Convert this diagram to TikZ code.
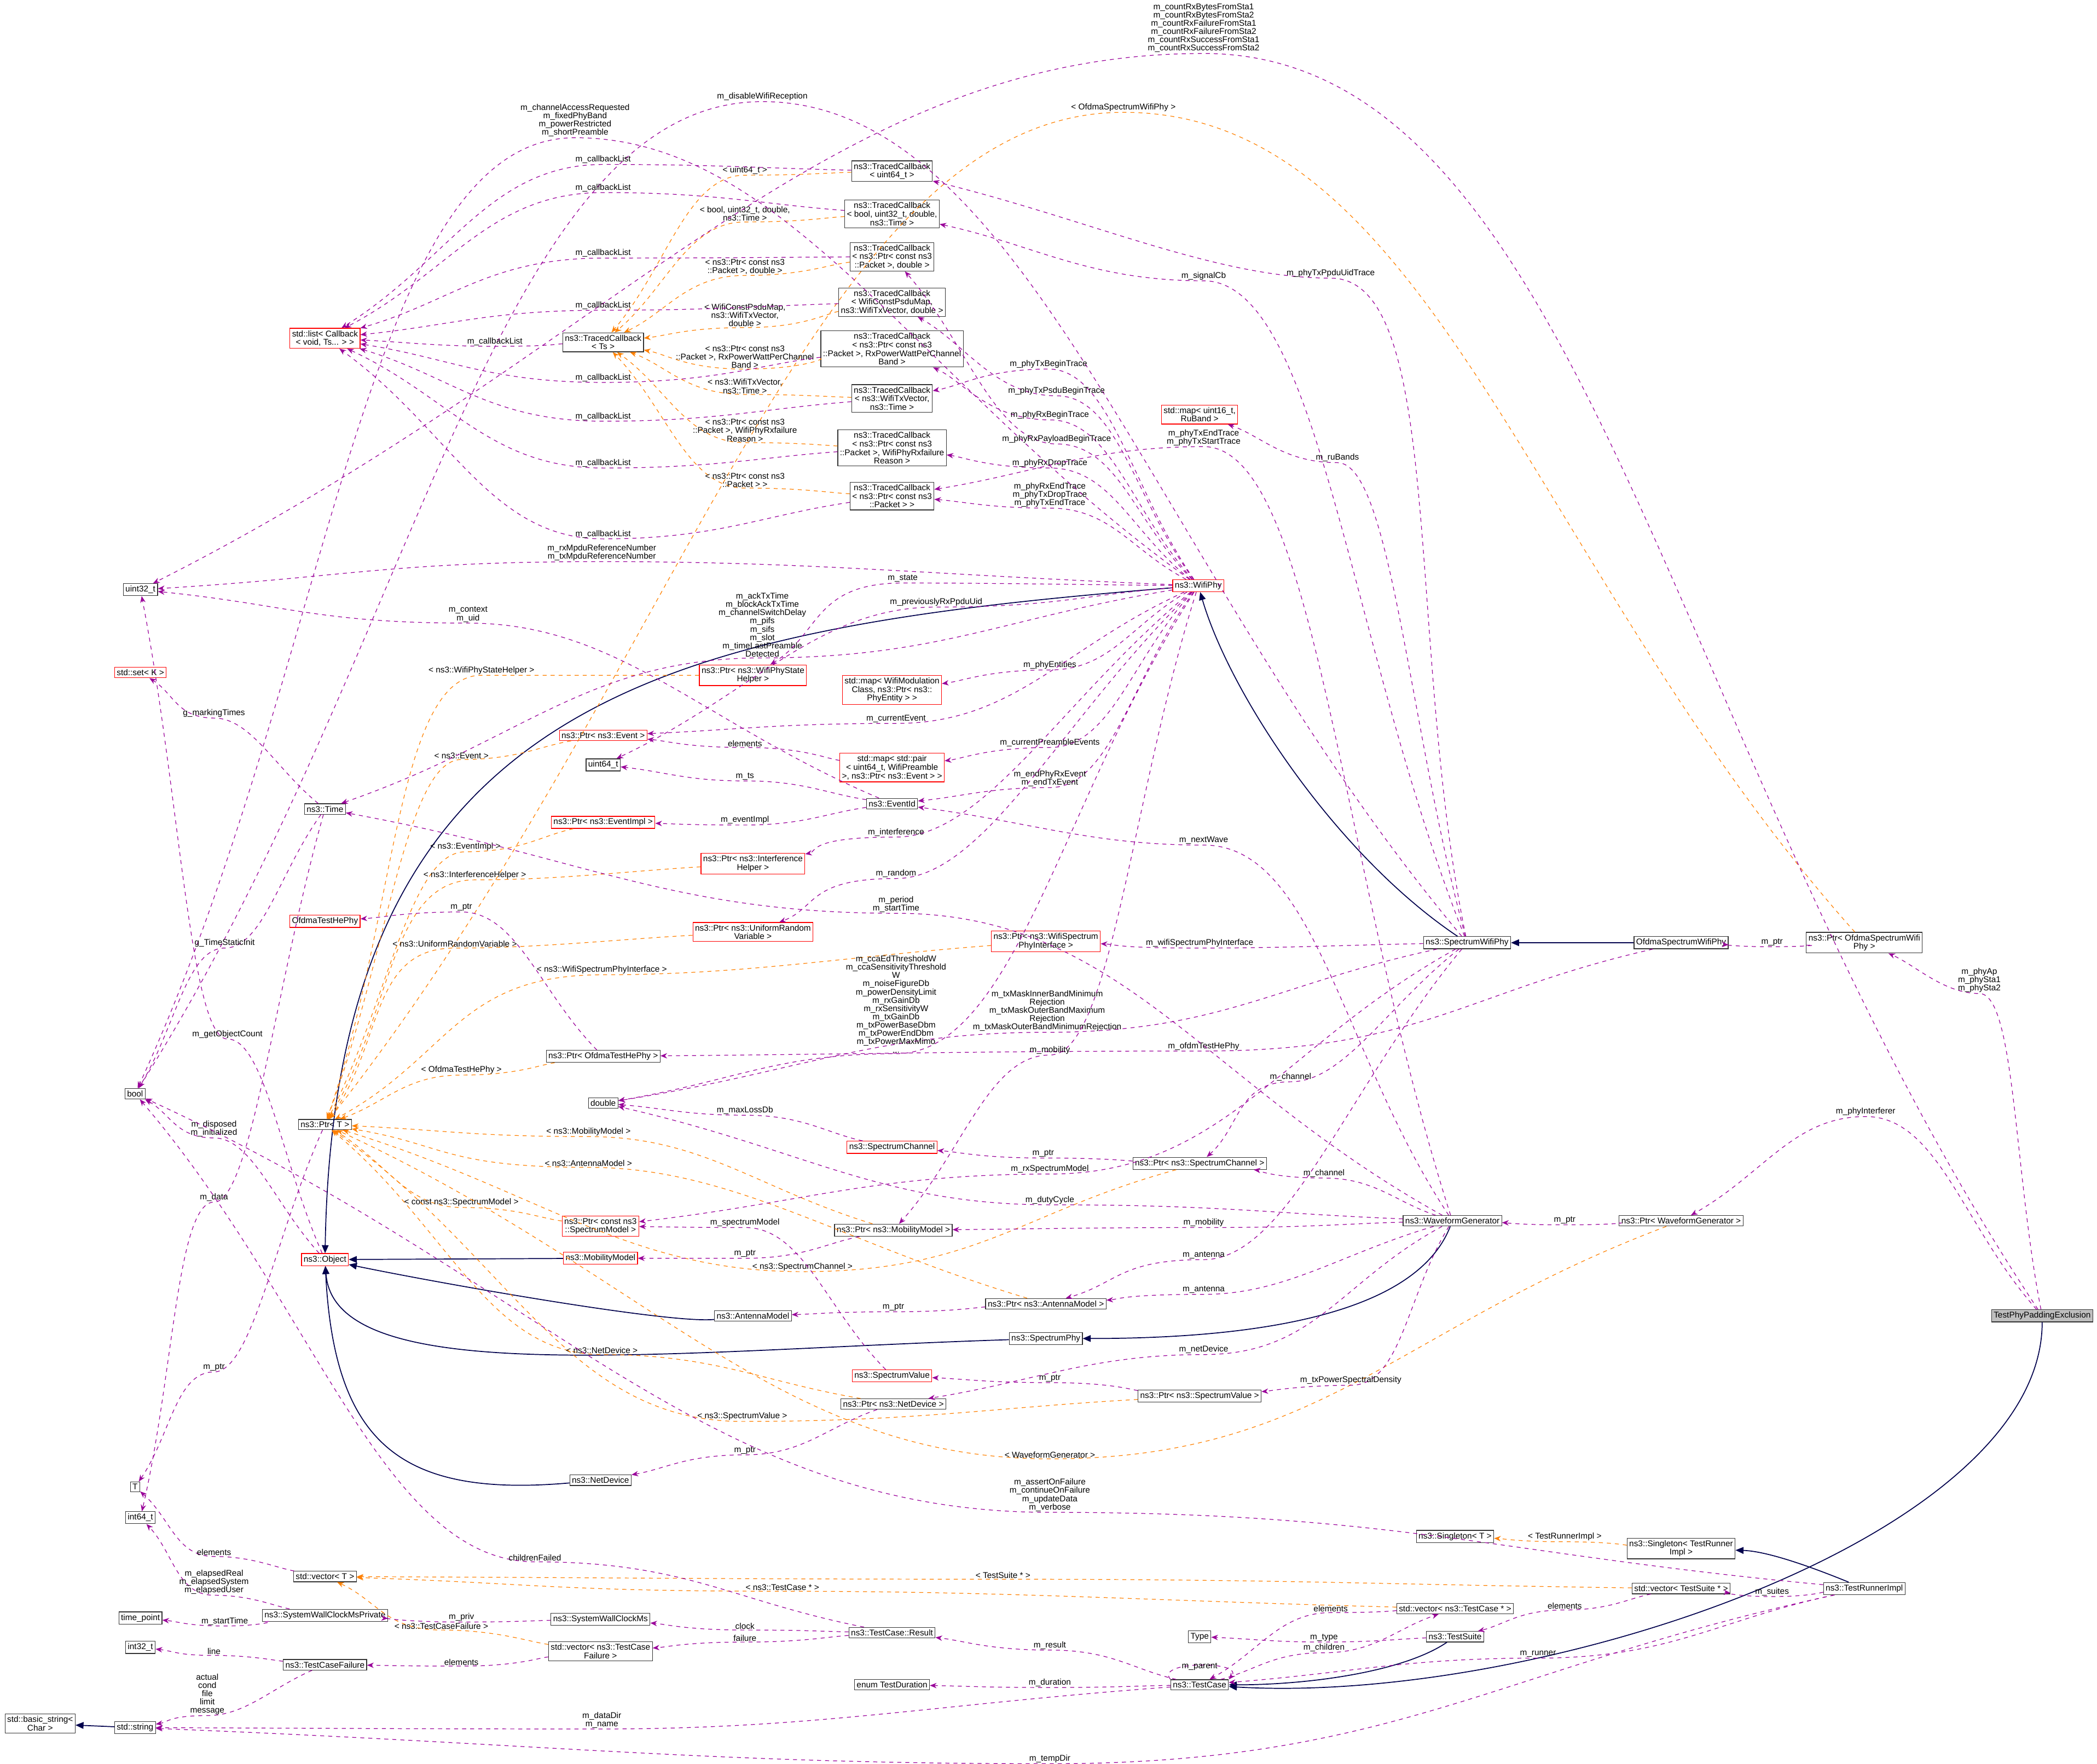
\documentclass[tikz,border=0pt]{standalone}
\usepackage{fontspec}
\setmainfont{Liberation Sans}
\usetikzlibrary{calc,arrows.meta}
\AtBeginDocument{\catcode`\_=12 }
\tikzset{
 bx/.style={draw=black!80,line width=0.5pt,inner sep=1.6pt,align=center,font=\fontsize{6.3}{6.4}\selectfont,fill=white},
 rb/.style={bx,draw=red},
 lbl/.style={font=\fontsize{6.3}{6.2}\selectfont,align=center,inner sep=0.5pt,anchor=south},
 mem/.style={draw=violet!80!magenta,dashed,line width=0.5pt,-{Stealth[length=5pt,width=4pt]}},
 tpl/.style={draw=orange,dashed,line width=0.5pt,-{Stealth[length=5pt,width=4pt]}},
 inh/.style={draw=blue!30!black,line width=0.7pt,-{Triangle[length=6pt,width=5pt]}},
}
\newcommand\ed[5]{\draw[#1] let \p1=($(#3)-(#2)$) in (#2) .. controls ($(#2)!0.45!(#4)$) and ($(#4)-(0.2*\x1,0)$) .. (#4) .. controls ($(#4)+(0.2*\x1,0)$) and ($(#3)!0.45!(#4)$) .. (#3); \node[lbl] at (#4) {#5};}
\begin{document}
\begin{tikzpicture}[x=1pt,y=-1pt]
\useasboundingbox (0,0) rectangle (1568,1319);
% nodes
\node[bx,fill=black!25] (tpe) at (1527,984) {TestPhyPaddingExclusion};
\node[bx] (pofdma) at (1394,705) {ns3::Ptr< OfdmaSpectrumWifi\\Phy >};
\node[bx] (ofdma) at (1257,705) {OfdmaSpectrumWifiPhy};
\node[bx] (swp) at (1097,705) {ns3::SpectrumWifiPhy};
\node[rb] (wifiphy) at (896,438) {ns3::WifiPhy};
\node[bx] (pwg) at (1257,913) {ns3::Ptr< WaveformGenerator >};
\node[bx] (wg) at (1086,913) {ns3::WaveformGenerator};
\node[bx] (pschan) at (897,870) {ns3::Ptr< ns3::SpectrumChannel >};
\node[rb] (schan) at (667,858) {ns3::SpectrumChannel};
\node[bx] (pmob) at (668,920) {ns3::Ptr< ns3::MobilityModel >};
\node[bx] (pant) at (782,975) {ns3::Ptr< ns3::AntennaModel >};
\node[bx] (sphy) at (782,1001) {ns3::SpectrumPhy};
\node[rb] (sval) at (667,1029) {ns3::SpectrumValue};
\node[bx] (psval) at (897,1044) {ns3::Ptr< ns3::SpectrumValue >};
\node[bx] (pnd) at (668,1050) {ns3::Ptr< ns3::NetDevice >};
\node[bx] (nd) at (449,1107) {ns3::NetDevice};
\node[bx] (ant) at (563,984) {ns3::AntennaModel};
\node[rb] (mob) at (449,941) {ns3::MobilityModel};
\node[rb] (psmod) at (449,917) {ns3::Ptr< const ns3\\::SpectrumModel >};
\node[rb] (obj) at (243,942) {ns3::Object};
\node[bx] (ptrT) at (243,841) {ns3::Ptr< T >};
\node[bx] (dbl) at (451,825) {double};
\node[bx] (pohe) at (451,790) {ns3::Ptr< OfdmaTestHePhy >};
\node[rb] (ohe) at (243,689) {OfdmaTestHePhy};
\node[rb] (purv) at (563,697) {ns3::Ptr< ns3::UniformRandom\\Variable >};
\node[rb] (pwspi) at (782,704) {ns3::Ptr< ns3::WifiSpectrum\\PhyInterface >};
\node[rb] (pih) at (563,646) {ns3::Ptr< ns3::Interference\\Helper >};
\node[rb] (pei) at (451,615) {ns3::Ptr< ns3::EventImpl >};
\node[bx] (eid) at (667,601) {ns3::EventId};
\node[bx] (u64) at (451,572) {uint64_t};
\node[rb] (pev) at (451,550) {ns3::Ptr< ns3::Event >};
\node[rb] (mpair) at (667,574) {std::map< std::pair\\< uint64_t, WifiPreamble\\ >, ns3::Ptr< ns3::Event > >};
\node[rb] (mpe) at (667,516) {std::map< WifiModulation\\Class, ns3::Ptr< ns3::\\PhyEntity > >};
\node[rb] (pwsh) at (563,505) {ns3::Ptr< ns3::WifiPhyState\\Helper >};
\node[bx] (time) at (243,605) {ns3::Time};
\node[rb] (sset) at (105,503) {std::set< K >};
\node[bx] (u32) at (105,441) {uint32_t};
\node[bx] (bool) at (101,818) {bool};
\node[bx] (T) at (101,1112) {T};
\node[bx] (i64) at (105,1135) {int64_t};
\node[bx] (vecT) at (243,1179) {std::vector< T >};
\node[bx] (swcp) at (243,1208) {ns3::SystemWallClockMsPrivate};
\node[bx] (tp) at (105,1210) {time_point};
\node[bx] (swc) at (449,1211) {ns3::SystemWallClockMs};
\node[bx] (vtcf) at (449,1235) {std::vector< ns3::TestCase\\Failure >};
\node[bx] (tcf) at (243,1245) {ns3::TestCaseFailure};
\node[bx] (i32) at (105,1232) {int32_t};
\node[bx] (str) at (101,1292) {std::string};
\node[bx] (bstr) at (30,1289) {std::basic_string<\\ Char >};
\node[bx] (res) at (667,1221) {ns3::TestCase::Result};
\node[bx] (dur) at (667,1260) {enum TestDuration};
\node[bx] (tc) at (897,1260) {ns3::TestCase};
\node[bx] (type) at (897,1224) {Type};
\node[bx] (ts) at (1088,1224) {ns3::TestSuite};
\node[bx] (vtc) at (1088,1203) {std::vector< ns3::TestCase * >};
\node[bx] (vts) at (1257,1188) {std::vector< TestSuite * >};
\node[bx] (tri) at (1394,1188) {ns3::TestRunnerImpl};
\node[bx] (stri) at (1257,1158) {ns3::Singleton< TestRunner\\Impl >};
\node[bx] (sT) at (1088,1149) {ns3::Singleton< T >};
\node[rb] (slist) at (243,253) {std::list< Callback\\< void, Ts... > >};
\node[bx] (tcTs) at (451,256) {ns3::TracedCallback\\< Ts >};
\node[bx] (tc1) at (667,128) {ns3::TracedCallback\\< uint64_t >};
\node[bx] (tc2) at (667,160) {ns3::TracedCallback\\< bool, uint32_t, double,\\ ns3::Time >};
\node[bx] (tc3) at (667,192) {ns3::TracedCallback\\< ns3::Ptr< const ns3\\::Packet >, double >};
\node[bx] (tc4) at (667,226) {ns3::TracedCallback\\< WifiConstPsduMap,\\ ns3::WifiTxVector, double >};
\node[bx] (tc5) at (667,261) {ns3::TracedCallback\\< ns3::Ptr< const ns3\\::Packet >, RxPowerWattPerChannel\\Band >};
\node[bx] (tc6) at (667,298) {ns3::TracedCallback\\< ns3::WifiTxVector,\\ ns3::Time >};
\node[bx] (tc7) at (667,335) {ns3::TracedCallback\\< ns3::Ptr< const ns3\\::Packet >, WifiPhyRxfailure\\Reason >};
\node[bx] (tc8) at (667,371) {ns3::TracedCallback\\< ns3::Ptr< const ns3\\::Packet > >};
\node[rb] (mru) at (897,310) {std::map< uint16_t,\\ RuBand >};

% inheritance
\draw[inh] (swp) .. controls (1000,640) and (920,520) .. (wifiphy);
\draw[inh] (ofdma) -- (swp);
\draw[inh] (wifiphy) .. controls (500,470) and (250,520) .. (obj);
\draw[inh] (mob) -- (obj);
\draw[inh] (ant) .. controls (500,990) and (330,960) .. (obj);
\draw[inh] (sphy) .. controls (500,1010) and (250,1040) .. (obj);
\draw[inh] (nd) .. controls (300,1120) and (250,1080) .. (obj);
\draw[inh] (wg) .. controls (1060,980) and (950,1001) .. (sphy);
\draw[inh] (tpe) .. controls (1527,1150) and (1150,1275) .. (tc);
\draw[inh] (ts) .. controls (1050,1250) and (980,1260) .. (tc);
\draw[inh] (tri) .. controls (1350,1170) and (1320,1160) .. (stri);
\draw[inh] (str) -- (bstr);
% templates
\ed{tpl}{pofdma}{ptrT}{840,84}{< OfdmaSpectrumWifiPhy >}
\ed{tpl}{tc1}{tcTs}{557,131}{< uint64_t >}
\ed{tpl}{tc2}{tcTs}{557,166}{< bool, uint32_t, double,\\ ns3::Time >}
\ed{tpl}{tc3}{tcTs}{557,206}{< ns3::Ptr< const ns3\\::Packet >, double >}
\ed{tpl}{tc4}{tcTs}{557,245}{< WifiConstPsduMap,\\ ns3::WifiTxVector,\\ double >}
\ed{tpl}{tc5}{tcTs}{557,276}{< ns3::Ptr< const ns3\\::Packet >, RxPowerWattPerChannel\\Band >}
\ed{tpl}{tc6}{tcTs}{557,295}{< ns3::WifiTxVector,\\ ns3::Time >}
\ed{tpl}{tc7}{tcTs}{557,331}{< ns3::Ptr< const ns3\\::Packet >, WifiPhyRxfailure\\Reason >}
\ed{tpl}{tc8}{tcTs}{557,365}{< ns3::Ptr< const ns3\\::Packet > >}
\ed{tpl}{pwsh}{ptrT}{360,505}{< ns3::WifiPhyStateHelper >}
\ed{tpl}{pev}{ptrT}{345,568}{< ns3::Event >}
\ed{tpl}{pei}{ptrT}{348,637}{< ns3::EventImpl >}
\ed{tpl}{pih}{ptrT}{355,658}{< ns3::InterferenceHelper >}
\ed{tpl}{purv}{ptrT}{340,709}{< ns3::UniformRandomVariable >}
\ed{tpl}{pwspi}{ptrT}{450,729}{< ns3::WifiSpectrumPhyInterface >}
\ed{tpl}{pohe}{ptrT}{345,804}{< OfdmaTestHePhy >}
\ed{tpl}{pmob}{ptrT}{440,850}{< ns3::MobilityModel >}
\ed{tpl}{pant}{ptrT}{440,873}{< ns3::AntennaModel >}
\ed{tpl}{psmod}{ptrT}{345,903}{< const ns3::SpectrumModel >}
\ed{tpl}{pschan}{ptrT}{600,951}{< ns3::SpectrumChannel >}
\ed{tpl}{pnd}{ptrT}{450,1013}{< ns3::NetDevice >}
\ed{tpl}{psval}{ptrT}{555,1063}{< ns3::SpectrumValue >}
\ed{tpl}{pwg}{ptrT}{785,1091}{< WaveformGenerator >}
\ed{tpl}{vts}{vecT}{750,1181}{< TestSuite * >}
\ed{tpl}{vtc}{vecT}{585,1190}{< ns3::TestCase * >}
\ed{tpl}{vtcf}{vecT}{330,1219}{< ns3::TestCaseFailure >}
\ed{tpl}{stri}{sT}{1170,1153}{< TestRunnerImpl >}
% members
\ed{mem}{tpe}{u32}{900,40}{m_countRxBytesFromSta1\\m_countRxBytesFromSta2\\m_countRxFailureFromSta1\\m_countRxFailureFromSta2\\m_countRxSuccessFromSta1\\m_countRxSuccessFromSta2}
\ed{mem}{tpe}{pofdma}{1480,743}{m_phyAp\\m_phySta1\\m_phySta2}
\ed{mem}{tpe}{pwg}{1395,835}{m_phyInterferer}
\ed{mem}{pofdma}{ofdma}{1325,708}{m_ptr}
\ed{mem}{pwg}{wg}{1170,916}{m_ptr}
\ed{mem}{ofdma}{pohe}{900,786}{m_ofdmTestHePhy}
\ed{mem}{swp}{tc1}{995,208}{m_phyTxPpduUidTrace}
\ed{mem}{swp}{tc2}{900,210}{m_signalCb}
\ed{mem}{swp}{mru}{1000,346}{m_ruBands}
\ed{mem}{swp}{pwspi}{897,709}{m_wifiSpectrumPhyInterface}
\ed{mem}{swp}{pschan}{965,809}{m_channel}
\ed{mem}{swp}{dbl}{783,772}{m_txMaskInnerBandMinimum\\Rejection\\m_txMaskOuterBandMaximum\\Rejection\\m_txMaskOuterBandMinimumRejection}
\ed{mem}{swp}{bool}{570,76}{m_disableWifiReception}
\ed{mem}{swp}{psmod}{785,878}{m_rxSpectrumModel}
\ed{mem}{swp}{pant}{900,942}{m_antenna}
\ed{mem}{wifiphy}{tc6}{784,276}{m_phyTxBeginTrace}
\ed{mem}{wifiphy}{tc4}{790,296}{m_phyTxPsduBeginTrace}
\ed{mem}{wifiphy}{tc5}{785,314}{m_phyRxBeginTrace}
\ed{mem}{wifiphy}{tc3}{790,332}{m_phyRxPayloadBeginTrace}
\ed{mem}{wifiphy}{tc7}{785,350}{m_phyRxDropTrace}
\ed{mem}{wifiphy}{tc8}{785,380}{m_phyRxEndTrace\\m_phyTxDropTrace\\m_phyTxEndTrace}
\ed{mem}{wg}{tc8}{900,334}{m_phyTxEndTrace\\m_phyTxStartTrace}
\ed{mem}{wifiphy}{u32}{450,420}{m_rxMpduReferenceNumber\\m_txMpduReferenceNumber}
\ed{mem}{wifiphy}{time}{570,492}{m_ackTxTime\\m_blockAckTxTime\\m_channelSwitchDelay\\m_pifs\\m_sifs\\m_slot\\m_timeLastPreamble\\Detected}
\ed{mem}{wifiphy}{bool}{430,103}{m_channelAccessRequested\\m_fixedPhyBand\\m_powerRestricted\\m_shortPreamble}
\ed{mem}{wifiphy}{pwsh}{675,436}{m_state}
\ed{mem}{wifiphy}{mpe}{785,501}{m_phyEntities}
\ed{mem}{wifiphy}{pev}{670,541}{m_currentEvent}
\ed{mem}{wifiphy}{mpair}{785,559}{m_currentPreambleEvents}
\ed{mem}{wifiphy}{eid}{785,589}{m_endPhyRxEvent\\m_endTxEvent}
\ed{mem}{wifiphy}{pih}{670,626}{m_interference}
\ed{mem}{wifiphy}{purv}{670,657}{m_random}
\ed{mem}{wifiphy}{u64}{700,454}{m_previouslyRxPpduUid}
\ed{mem}{wifiphy}{dbl}{670,788}{m_ccaEdThresholdW\\m_ccaSensitivityThreshold\\W\\m_noiseFigureDb\\m_powerDensityLimit\\m_rxGainDb\\m_rxSensitivityW\\m_txGainDb\\m_txPowerBaseDbm\\m_txPowerEndDbm\\m_txPowerMaxMimo\\...}
\ed{mem}{wifiphy}{pmob}{785,789}{m_mobility}
\ed{mem}{mpair}{pev}{557,559}{elements}
\ed{mem}{eid}{u64}{557,584}{m_ts}
\ed{mem}{eid}{pei}{557,617}{m_eventImpl}
\ed{mem}{eid}{u32}{350,466}{m_context\\m_uid}
\ed{mem}{tc1}{slist}{451,123}{m_callbackList}
\ed{mem}{tc2}{slist}{451,144}{m_callbackList}
\ed{mem}{tc3}{slist}{451,193}{m_callbackList}
\ed{mem}{tc4}{slist}{451,232}{m_callbackList}
\ed{mem}{tc5}{slist}{451,286}{m_callbackList}
\ed{mem}{tc6}{slist}{451,315}{m_callbackList}
\ed{mem}{tc7}{slist}{451,350}{m_callbackList}
\ed{mem}{tc8}{slist}{451,403}{m_callbackList}
\ed{mem}{tcTs}{slist}{370,259}{m_callbackList}
\ed{mem}{ptrT}{T}{160,1026}{m_ptr}
\ed{mem}{obj}{bool}{160,851}{m_disposed\\m_initialized}
\ed{mem}{obj}{u32}{170,777}{m_getObjectCount}
\ed{mem}{time}{bool}{168,709}{g_TimeStaticInit}
\ed{mem}{time}{sset}{160,537}{g_markingTimes}
\ed{mem}{time}{i64}{160,899}{m_data}
\ed{mem}{pohe}{ohe}{345,682}{m_ptr}
\ed{mem}{pschan}{schan}{780,866}{m_ptr}
\ed{mem}{schan}{dbl}{557,834}{m_maxLossDb}
\ed{mem}{pmob}{mob}{557,941}{m_ptr}
\ed{mem}{pant}{ant}{668,981}{m_ptr}
\ed{mem}{psval}{sval}{785,1034}{m_ptr}
\ed{mem}{pnd}{nd}{557,1088}{m_ptr}
\ed{mem}{sval}{psmod}{557,918}{m_spectrumModel}
\ed{mem}{wg}{pschan}{990,881}{m_channel}
\ed{mem}{wg}{dbl}{785,901}{m_dutyCycle}
\ed{mem}{wg}{pmob}{900,918}{m_mobility}
\ed{mem}{wg}{pant}{900,968}{m_antenna}
\ed{mem}{wg}{pnd}{900,1013}{m_netDevice}
\ed{mem}{wg}{psval}{1010,1036}{m_txPowerSpectralDensity}
\ed{mem}{wg}{eid}{900,632}{m_nextWave}
\ed{mem}{wg}{time}{670,683}{m_period\\m_startTime}
\ed{mem}{tri}{bool}{785,1131}{m_assertOnFailure\\m_continueOnFailure\\m_updateData\\m_verbose}
\ed{mem}{tri}{vts}{1325,1194}{m_suites}
\ed{mem}{tri}{str}{785,1319}{m_tempDir}
\ed{mem}{tri}{tc}{1150,1240}{m_runner}
\ed{mem}{vts}{ts}{1170,1204}{elements}
\ed{mem}{ts}{type}{990,1228}{m_type}
\ed{mem}{tc}{vtc}{990,1236}{m_children}
\ed{mem}{vtc}{tc}{995,1206}{elements}
\draw[mem] (tc.north west) .. controls +(-12,-14) and +(12,-14) .. (tc.north east);
\node[lbl] at (897,1250) {m_parent};
\ed{mem}{tc}{res}{785,1234}{m_result}
\ed{mem}{tc}{dur}{785,1262}{m_duration}
\ed{mem}{tc}{str}{450,1293}{m_dataDir\\m_name}
\ed{mem}{res}{swc}{557,1219}{clock}
\ed{mem}{res}{vtcf}{557,1228}{failure}
\ed{mem}{res}{bool}{400,1168}{childrenFailed}
\ed{mem}{swc}{swcp}{345,1213}{m_priv}
\ed{mem}{swcp}{tp}{168,1216}{m_startTime}
\ed{mem}{swcp}{i64}{160,1193}{m_elapsedReal\\m_elapsedSystem\\m_elapsedUser}
\ed{mem}{vecT}{T}{160,1164}{elements}
\ed{mem}{vtcf}{tcf}{345,1246}{elements}
\ed{mem}{tcf}{i32}{160,1238}{line}
\ed{mem}{tcf}{str}{155,1283}{actual\\cond\\file\\limit\\message}
\end{tikzpicture}
\end{document}
